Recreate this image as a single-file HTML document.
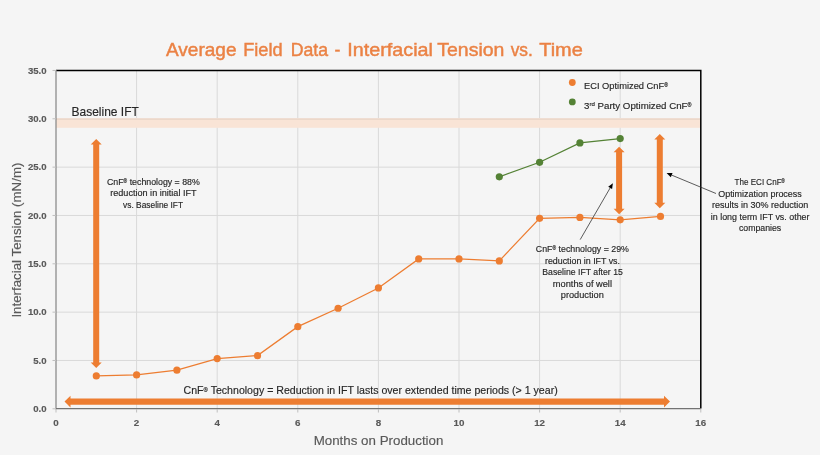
<!DOCTYPE html>
<html><head><meta charset="utf-8"><style>
html,body{margin:0;padding:0;background:#F5F5F5;}
svg{display:block;font-family:"Liberation Sans", sans-serif;will-change:transform;}
</style></head><body>
<svg width="820" height="455" viewBox="0 0 820 455">
<rect x="0" y="0" width="820" height="455" fill="#F5F5F5"/>
<line x1="136.60" y1="70" x2="136.60" y2="408" stroke="#D9D9D9" stroke-width="1"/>
<line x1="217.20" y1="70" x2="217.20" y2="408" stroke="#D9D9D9" stroke-width="1"/>
<line x1="297.80" y1="70" x2="297.80" y2="408" stroke="#D9D9D9" stroke-width="1"/>
<line x1="378.40" y1="70" x2="378.40" y2="408" stroke="#D9D9D9" stroke-width="1"/>
<line x1="459.00" y1="70" x2="459.00" y2="408" stroke="#D9D9D9" stroke-width="1"/>
<line x1="539.60" y1="70" x2="539.60" y2="408" stroke="#D9D9D9" stroke-width="1"/>
<line x1="620.20" y1="70" x2="620.20" y2="408" stroke="#D9D9D9" stroke-width="1"/>
<line x1="56" y1="360.47" x2="701" y2="360.47" stroke="#D9D9D9" stroke-width="1"/>
<line x1="56" y1="312.13" x2="701" y2="312.13" stroke="#D9D9D9" stroke-width="1"/>
<line x1="56" y1="263.80" x2="701" y2="263.80" stroke="#D9D9D9" stroke-width="1"/>
<line x1="56" y1="215.46" x2="701" y2="215.46" stroke="#D9D9D9" stroke-width="1"/>
<line x1="56" y1="167.13" x2="701" y2="167.13" stroke="#D9D9D9" stroke-width="1"/>
<line x1="56" y1="118.79" x2="701" y2="118.79" stroke="#D9D9D9" stroke-width="1"/>
<rect x="56" y="118.2" width="645" height="9.6" fill="#F9E4D6"/>
<line x1="56" y1="119.19" x2="701" y2="119.19" stroke="#E6D3C6" stroke-width="1"/>
<path d="M56 70.6 H700.8 V408.5" fill="none" stroke="#000" stroke-width="1.5"/>
<line x1="56" y1="70" x2="56" y2="409.3" stroke="#8C8C8C" stroke-width="1.3"/>
<line x1="56" y1="408.6" x2="701" y2="408.6" stroke="#737373" stroke-width="1.4"/>
<line x1="56.00" y1="409" x2="56.00" y2="412.5" stroke="#BFBFBF" stroke-width="1"/>
<line x1="136.60" y1="409" x2="136.60" y2="412.5" stroke="#BFBFBF" stroke-width="1"/>
<line x1="217.20" y1="409" x2="217.20" y2="412.5" stroke="#BFBFBF" stroke-width="1"/>
<line x1="297.80" y1="409" x2="297.80" y2="412.5" stroke="#BFBFBF" stroke-width="1"/>
<line x1="378.40" y1="409" x2="378.40" y2="412.5" stroke="#BFBFBF" stroke-width="1"/>
<line x1="459.00" y1="409" x2="459.00" y2="412.5" stroke="#BFBFBF" stroke-width="1"/>
<line x1="539.60" y1="409" x2="539.60" y2="412.5" stroke="#BFBFBF" stroke-width="1"/>
<line x1="620.20" y1="409" x2="620.20" y2="412.5" stroke="#BFBFBF" stroke-width="1"/>
<line x1="700.80" y1="409" x2="700.80" y2="412.5" stroke="#BFBFBF" stroke-width="1"/>
<line x1="52.5" y1="408.80" x2="56" y2="408.80" stroke="#BFBFBF" stroke-width="1"/>
<line x1="52.5" y1="360.47" x2="56" y2="360.47" stroke="#BFBFBF" stroke-width="1"/>
<line x1="52.5" y1="312.13" x2="56" y2="312.13" stroke="#BFBFBF" stroke-width="1"/>
<line x1="52.5" y1="263.80" x2="56" y2="263.80" stroke="#BFBFBF" stroke-width="1"/>
<line x1="52.5" y1="215.46" x2="56" y2="215.46" stroke="#BFBFBF" stroke-width="1"/>
<line x1="52.5" y1="167.13" x2="56" y2="167.13" stroke="#BFBFBF" stroke-width="1"/>
<line x1="52.5" y1="118.79" x2="56" y2="118.79" stroke="#BFBFBF" stroke-width="1"/>
<line x1="52.5" y1="70.46" x2="56" y2="70.46" stroke="#BFBFBF" stroke-width="1"/>
<text stroke="#595959" stroke-width="0.15" x="46.6" y="412.10" text-anchor="end" font-size="9.6" font-weight="bold" fill="#595959">0.0</text>
<text stroke="#595959" stroke-width="0.15" x="46.6" y="363.77" text-anchor="end" font-size="9.6" font-weight="bold" fill="#595959">5.0</text>
<text stroke="#595959" stroke-width="0.15" x="46.6" y="315.43" text-anchor="end" font-size="9.6" font-weight="bold" fill="#595959">10.0</text>
<text stroke="#595959" stroke-width="0.15" x="46.6" y="267.10" text-anchor="end" font-size="9.6" font-weight="bold" fill="#595959">15.0</text>
<text stroke="#595959" stroke-width="0.15" x="46.6" y="218.76" text-anchor="end" font-size="9.6" font-weight="bold" fill="#595959">20.0</text>
<text stroke="#595959" stroke-width="0.15" x="46.6" y="170.43" text-anchor="end" font-size="9.6" font-weight="bold" fill="#595959">25.0</text>
<text stroke="#595959" stroke-width="0.15" x="46.6" y="122.09" text-anchor="end" font-size="9.6" font-weight="bold" fill="#595959">30.0</text>
<text stroke="#595959" stroke-width="0.15" x="46.6" y="73.76" text-anchor="end" font-size="9.6" font-weight="bold" fill="#595959">35.0</text>
<text stroke="#595959" stroke-width="0.15" x="56.00" y="425.8" text-anchor="middle" font-size="9.8" font-weight="bold" fill="#595959">0</text>
<text stroke="#595959" stroke-width="0.15" x="136.60" y="425.8" text-anchor="middle" font-size="9.8" font-weight="bold" fill="#595959">2</text>
<text stroke="#595959" stroke-width="0.15" x="217.20" y="425.8" text-anchor="middle" font-size="9.8" font-weight="bold" fill="#595959">4</text>
<text stroke="#595959" stroke-width="0.15" x="297.80" y="425.8" text-anchor="middle" font-size="9.8" font-weight="bold" fill="#595959">6</text>
<text stroke="#595959" stroke-width="0.15" x="378.40" y="425.8" text-anchor="middle" font-size="9.8" font-weight="bold" fill="#595959">8</text>
<text stroke="#595959" stroke-width="0.15" x="459.00" y="425.8" text-anchor="middle" font-size="9.8" font-weight="bold" fill="#595959">10</text>
<text stroke="#595959" stroke-width="0.15" x="539.60" y="425.8" text-anchor="middle" font-size="9.8" font-weight="bold" fill="#595959">12</text>
<text stroke="#595959" stroke-width="0.15" x="620.20" y="425.8" text-anchor="middle" font-size="9.8" font-weight="bold" fill="#595959">14</text>
<text stroke="#595959" stroke-width="0.15" x="700.80" y="425.8" text-anchor="middle" font-size="9.8" font-weight="bold" fill="#595959">16</text>
<text stroke="#595959" stroke-width="0.15" x="313.7" y="445" font-size="13.5" fill="#595959" textLength="129.7" lengthAdjust="spacingAndGlyphs">Months on Production</text>
<text stroke="#595959" stroke-width="0.15" transform="translate(21.3 317.6) rotate(-90)" x="0" y="0" font-size="13.5" fill="#595959" textLength="155" lengthAdjust="spacingAndGlyphs">Interfacial Tension (mN/m)</text>
<text stroke="#EB8244" stroke-width="0.15" x="166" y="56" font-size="19" fill="#EB8244" textLength="70.5" lengthAdjust="spacingAndGlyphs" style="stroke-width:0.45">Average</text>
<text stroke="#EB8244" stroke-width="0.15" x="243.2" y="56" font-size="19" fill="#EB8244" textLength="39.5" lengthAdjust="spacingAndGlyphs" style="stroke-width:0.45">Field</text>
<text stroke="#EB8244" stroke-width="0.15" x="290.7" y="56" font-size="19" fill="#EB8244" textLength="37.3" lengthAdjust="spacingAndGlyphs" style="stroke-width:0.45">Data</text>
<text stroke="#EB8244" stroke-width="0.15" x="334.6" y="56" font-size="19" fill="#EB8244" textLength="5.9" lengthAdjust="spacingAndGlyphs" style="stroke-width:0.45">-</text>
<text stroke="#EB8244" stroke-width="0.15" x="347.3" y="56" font-size="19" fill="#EB8244" textLength="85.6" lengthAdjust="spacingAndGlyphs" style="stroke-width:0.45">Interfacial</text>
<text stroke="#EB8244" stroke-width="0.15" x="437.3" y="56" font-size="19" fill="#EB8244" textLength="67.1" lengthAdjust="spacingAndGlyphs" style="stroke-width:0.45">Tension</text>
<text stroke="#EB8244" stroke-width="0.15" x="510.7" y="56" font-size="19" fill="#EB8244" textLength="22.2" lengthAdjust="spacingAndGlyphs" style="stroke-width:0.45">vs.</text>
<text stroke="#EB8244" stroke-width="0.15" x="539.2" y="56" font-size="19" fill="#EB8244" textLength="43.6" lengthAdjust="spacingAndGlyphs" style="stroke-width:0.45">Time</text>
<text stroke="#262626" stroke-width="0.15" x="71.5" y="115.9" font-size="12.6" fill="#262626" textLength="67.3" lengthAdjust="spacingAndGlyphs">Baseline IFT</text>
<path d="M96.2,138.9 L101.7,144.4 L99.2,144.4 L99.2,362.5 L101.7,362.5 L96.2,368.0 L90.7,362.5 L93.2,362.5 L93.2,144.4 L90.7,144.4 Z" fill="#ED7D31"/>
<path d="M619.1,146.7 L624.6,152.2 L622.1,152.2 L622.1,208.7 L624.6,208.7 L619.1,214.2 L613.6,208.7 L616.1,208.7 L616.1,152.2 L613.6,152.2 Z" fill="#ED7D31"/>
<path d="M659.8,134.0 L665.3,139.5 L662.8,139.5 L662.8,202.7 L665.3,202.7 L659.8,208.2 L654.3,202.7 L656.8,202.7 L656.8,139.5 L654.3,139.5 Z" fill="#ED7D31"/>
<path d="M64.5,401.6 L70.5,395.70000000000005 L70.5,398.45000000000005 L664.0,398.45000000000005 L664.0,395.70000000000005 L670.0,401.6 L664.0,407.5 L664.0,404.75 L70.5,404.75 L70.5,407.5 Z" fill="#ED7D31"/>
<polyline points="96.30,375.93 136.60,374.97 176.90,370.13 217.20,358.53 257.50,355.63 297.80,326.63 338.10,308.26 378.40,287.96 418.70,258.96 459.00,258.96 499.30,260.89 539.60,218.36 579.90,217.39 620.20,219.81 660.50,216.43" fill="none" stroke="#ED7D31" stroke-width="1.25"/>
<circle cx="96.30" cy="375.93" r="3.6" fill="#ED7D31"/>
<circle cx="136.60" cy="374.97" r="3.6" fill="#ED7D31"/>
<circle cx="176.90" cy="370.13" r="3.6" fill="#ED7D31"/>
<circle cx="217.20" cy="358.53" r="3.6" fill="#ED7D31"/>
<circle cx="257.50" cy="355.63" r="3.6" fill="#ED7D31"/>
<circle cx="297.80" cy="326.63" r="3.6" fill="#ED7D31"/>
<circle cx="338.10" cy="308.26" r="3.6" fill="#ED7D31"/>
<circle cx="378.40" cy="287.96" r="3.6" fill="#ED7D31"/>
<circle cx="418.70" cy="258.96" r="3.6" fill="#ED7D31"/>
<circle cx="459.00" cy="258.96" r="3.6" fill="#ED7D31"/>
<circle cx="499.30" cy="260.89" r="3.6" fill="#ED7D31"/>
<circle cx="539.60" cy="218.36" r="3.6" fill="#ED7D31"/>
<circle cx="579.90" cy="217.39" r="3.6" fill="#ED7D31"/>
<circle cx="620.20" cy="219.81" r="3.6" fill="#ED7D31"/>
<circle cx="660.50" cy="216.43" r="3.6" fill="#ED7D31"/>
<polyline points="499.30,176.79 539.60,162.29 579.90,142.96 620.20,138.61" fill="none" stroke="#548235" stroke-width="1.25"/>
<circle cx="499.30" cy="176.79" r="3.6" fill="#548235"/>
<circle cx="539.60" cy="162.29" r="3.6" fill="#548235"/>
<circle cx="579.90" cy="142.96" r="3.6" fill="#548235"/>
<circle cx="620.20" cy="138.61" r="3.6" fill="#548235"/>
<circle cx="572.3" cy="82.5" r="3.4" fill="#ED7D31"/>
<circle cx="572.3" cy="101.9" r="3.4" fill="#548235"/>
<text stroke="#262626" stroke-width="0.15" x="584" y="89.3" font-size="9.5" fill="#262626" textLength="84" lengthAdjust="spacingAndGlyphs">ECI Optimized CnF<tspan font-size="5.32" dy="-1.90">®</tspan></text>
<text stroke="#262626" stroke-width="0.15" x="584" y="109.1" font-size="9.5" fill="#262626" textLength="107.5" lengthAdjust="spacingAndGlyphs">3<tspan dy="-3" font-size="6">rd</tspan><tspan dy="3"> Party Optimized CnF</tspan><tspan font-size="5.3" dy="-1.9">®</tspan></text>
<text stroke="#262626" stroke-width="0.15" x="107.00" y="184.50" font-size="8.8" fill="#262626" textLength="92.80" lengthAdjust="spacingAndGlyphs">CnF<tspan font-size="4.93" dy="-1.76">®</tspan><tspan dy="1.76"> technology = 88%</tspan></text>
<text stroke="#262626" stroke-width="0.15" x="110.20" y="196.20" font-size="8.8" fill="#262626" textLength="86.40" lengthAdjust="spacingAndGlyphs">reduction in initial IFT</text>
<text stroke="#262626" stroke-width="0.15" x="123.10" y="207.70" font-size="8.8" fill="#262626" textLength="60.00" lengthAdjust="spacingAndGlyphs">vs. Baseline IFT</text>
<text stroke="#262626" stroke-width="0.15" x="535.80" y="251.60" font-size="8.8" fill="#262626" textLength="93.10" lengthAdjust="spacingAndGlyphs">CnF<tspan font-size="4.93" dy="-1.76">®</tspan><tspan dy="1.76"> technology = 29%</tspan></text>
<text stroke="#262626" stroke-width="0.15" x="545.00" y="263.50" font-size="8.8" fill="#262626" textLength="75.00" lengthAdjust="spacingAndGlyphs">reduction in IFT vs.</text>
<text stroke="#262626" stroke-width="0.15" x="542.30" y="275.30" font-size="8.8" fill="#262626" textLength="80.50" lengthAdjust="spacingAndGlyphs">Baseline IFT after 15</text>
<text stroke="#262626" stroke-width="0.15" x="552.80" y="287.00" font-size="8.8" fill="#262626" textLength="59.20" lengthAdjust="spacingAndGlyphs">months of well</text>
<text stroke="#262626" stroke-width="0.15" x="560.80" y="298.40" font-size="8.8" fill="#262626" textLength="43.00" lengthAdjust="spacingAndGlyphs">production</text>
<text stroke="#262626" stroke-width="0.15" x="734.60" y="184.60" font-size="8.8" fill="#262626" textLength="50.30" lengthAdjust="spacingAndGlyphs">The ECI CnF<tspan font-size="4.93" dy="-1.76">®</tspan></text>
<text stroke="#262626" stroke-width="0.15" x="718.20" y="196.50" font-size="8.8" fill="#262626" textLength="83.60" lengthAdjust="spacingAndGlyphs">Optimization process</text>
<text stroke="#262626" stroke-width="0.15" x="712.00" y="207.70" font-size="8.8" fill="#262626" textLength="96.20" lengthAdjust="spacingAndGlyphs">results in 30% reduction</text>
<text stroke="#262626" stroke-width="0.15" x="710.80" y="219.50" font-size="8.8" fill="#262626" textLength="98.70" lengthAdjust="spacingAndGlyphs">in long term IFT vs. other</text>
<text stroke="#262626" stroke-width="0.15" x="738.90" y="230.80" font-size="8.8" fill="#262626" textLength="42.30" lengthAdjust="spacingAndGlyphs">companies</text>
<text stroke="#262626" stroke-width="0.15" x="183.5" y="393.8" font-size="11" fill="#262626" textLength="374.2" lengthAdjust="spacingAndGlyphs">CnF<tspan font-size="6.16" dy="-2.20">®</tspan><tspan dy="2.20"> Technology = Reduction in IFT lasts over extended time periods (&gt; 1 year)</tspan></text>
<line x1="580.2" y1="239.6" x2="610.14" y2="187.96" stroke="#333333" stroke-width="0.8"/>
<path d="M612.9,183.2 L612.09,189.09 L608.19,186.83 Z" fill="#000"/>
<line x1="716.0" y1="193.5" x2="671.68" y2="175.11" stroke="#333333" stroke-width="0.8"/>
<path d="M666.6,173.0 L672.54,173.03 L670.82,177.19 Z" fill="#000"/>
</svg>
</body></html>
